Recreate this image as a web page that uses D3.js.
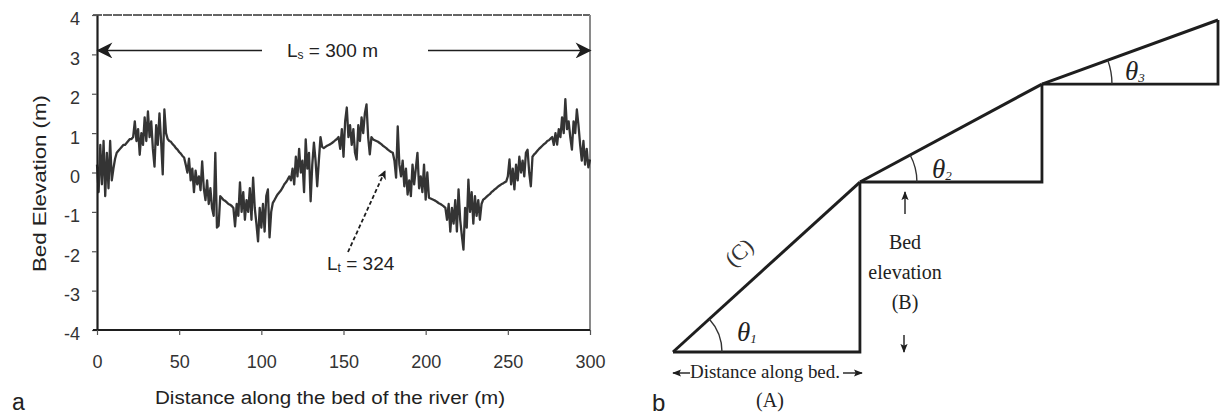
<!DOCTYPE html>
<html><head><meta charset="utf-8">
<script src="https://cdn.jsdelivr.net/npm/d3@7"></script>
<style>body{margin:0;background:#fff;} svg{display:block}</style>
</head><body><svg id="c" width="1224" height="417"></svg>
<script>
// ---------- Panel a data ----------
const elevation = [
 0.2, -0.5, 0.7, -0.3, 0.8, -0.6, 0.5, -0.4, 0.8, -0.2,
 0.1, 0.35, 0.5, 0.55, 0.6, 0.65, 0.7, 0.7, 0.75, 0.8,
 0.85, 0.85, 0.9, 1.3, 0.8, 1.1, 0.45, 1.0, 0.7, 1.4,
 0.8, 1.55, 0.9, 1.3, 0.6, 0.15, 1.2, 0.7, 1.5, 0.8,
 -0.05, 1.6, 1.0, 0.85, 0.8, 0.78, 0.72, 0.68, 0.62, 0.58,
 0.52, 0.48, 0.42, 0.38, 0.2, 0.0, 0.35, -0.2, 0.1, -0.5,
 0.05, -0.3, -0.1, -0.45, 0.28, -0.4, -0.7, -0.2, -0.8, -0.4,
 -0.9, -1.1, 0.5, -1.4, -1.35, -0.6, -0.65, -0.7, -0.72, -0.76,
 -0.8, -0.82, -0.85, -0.9, -1.37, -0.8, -1.1, -0.25, -1.0, -0.5,
 -1.2, -0.7, -1.0, -0.4, -1.2, -0.13, -0.9, -1.3, -1.75, -0.9,
 -1.4, -0.8, -1.5, -0.6, -0.43, -1.65, -1.0, -0.77, -0.7, -0.62,
 -0.55, -0.5, -0.45, -0.38, -0.3, -0.25, -0.18, -0.1, -0.2, 0.1,
 -0.3, 0.4, -0.1, 0.6, 0.0, 0.3, -0.5, 0.84, 0.1, 0.5,
 -0.73, 0.2, 0.76, 0.3, -0.35, 0.3, 0.9, 0.65, 0.62, 0.65,
 0.68, 0.7, 0.72, 0.75, 0.78, 0.82, 0.85, 0.9, 0.6, 1.1,
 0.4, 1.3, 1.65, 0.9, 1.2, 0.7, 1.1, 0.5, 0.33, 1.2,
 0.8, 1.4, 1.0, 1.5, 1.73, 0.9, 0.46, 0.9, 0.84, 0.82,
 0.8, 0.78, 0.75, 0.72, 0.68, 0.65, 0.62, 0.58, 0.55, 0.52,
 0.5, 0.3, -0.13, 1.17, 0.2, -0.1, 0.3, -0.35, 0.1, -0.56,
 -0.2, -0.6, 0.2, -0.3, 0.1, 0.5, -0.4, -0.1, -0.5, 0.2,
 -0.69, 0.0, -0.64, -0.66, -0.68, -0.7, -0.72, -0.75, -0.78, -0.8,
 -0.83, -0.86, -0.9, -1.2, -0.8, -1.5, -0.9, -1.3, -0.7, -1.5,
 -0.43, -1.2, -1.6, -1.96, -0.9, -1.4, -0.18, -1.0, -0.5, -1.3,
 -0.6, -1.1, -0.7, -1.2, -0.8, -0.69, -0.66, -0.62, -0.58, -0.55,
 -0.5, -0.47, -0.43, -0.4, -0.36, -0.33, -0.3, -0.28, -0.25, -0.23,
 -0.1, 0.33, -0.3, 0.1, -0.43, 0.2, -0.2, 0.4, 0.0, 0.3,
 -0.1, 0.5, 0.58, 0.0, -0.35, 0.4, 0.46, 0.5, 0.55, 0.6,
 0.64, 0.68, 0.72, 0.75, 0.8, 0.82, 0.86, 0.9, 0.7, 1.0,
 0.71, 1.1, 0.9, 1.4, 1.0, 1.86, 1.1, 1.3, 0.9, 0.58,
 1.3, 1.0, 1.6, 1.2, 0.7, 0.3, 0.8, 0.2, 0.6, 0.13,
 0.33
];
const distance = elevation.map((_, i) => i);   // 1 m sampling
const xTicks = [0, 50, 100, 150, 200, 250, 300];
const yTicks = [-4, -3, -2, -1, 0, 1, 2, 3, 4];
const lsValue = 3.1;          // level of the Ls arrow
const lsLabel = "300 m";
const ltLabel = "324";

// ---------- Panel b data (diagram units) ----------
const stepDistance = [0, 34.3, 67.7, 100];
const stepElevation = [0, 51.2, 80.7, 100];

const svg = d3.select("#c");
const sans = "Liberation Sans, Arial, sans-serif";
const serif = "Liberation Serif, Times New Roman, serif";
const ink = "#1e1e1e";

svg.append("defs").html(`
 <marker id="ah" viewBox="0 0 10 10" refX="9" refY="5" markerWidth="9" markerHeight="9" markerUnits="userSpaceOnUse" orient="auto">
   <path d="M0,0 L10,5 L0,10 L3,5 Z" fill="${ink}"/></marker>
 <marker id="ahBig" viewBox="0 0 10 10" refX="9" refY="5" markerWidth="18" markerHeight="16" markerUnits="userSpaceOnUse" orient="auto">
   <path d="M0,0 L10,5 L0,10 L3,5 Z" fill="${ink}"/></marker>
 <marker id="ahS" viewBox="0 0 10 10" refX="9" refY="5" markerWidth="9" markerHeight="9" markerUnits="userSpaceOnUse" orient="auto">
   <path d="M0,1 L10,5 L0,9 L2,5 Z" fill="${ink}"/></marker>
`);

// ---------- Panel a ----------
const x = d3.scaleLinear().domain([0, 300]).range([97, 590]);
const y = d3.scaleLinear().domain([-4, 4]).range([330, 15]);

const ga = svg.append("g");
// frame top / right
ga.append("line").attr("x1", 93).attr("x2", x(300)).attr("y1", y(4)).attr("y2", y(4))
  .attr("stroke", "#333").attr("stroke-width", 1.6).attr("stroke-dasharray", "9,1");
ga.append("line").attr("x1", x(300)).attr("x2", x(300)).attr("y1", y(4)).attr("y2", y(-4))
  .attr("stroke", "#8a8a8a").attr("stroke-width", 2);

// axes
const fmt = d => String(d);
const yAxis = d3.axisLeft(y).tickValues(yTicks).tickFormat(fmt).tickSize(5).tickSizeOuter(0).tickPadding(12);
const gy = ga.append("g").attr("transform", `translate(${x(0)},0)`).call(yAxis);
gy.select(".domain").attr("stroke", ink).attr("stroke-width", 2.2);
gy.selectAll(".tick line").attr("stroke", "#555").attr("stroke-width", 1.2);
gy.selectAll(".tick text").attr("font-family", sans).attr("font-size", 18).attr("fill", "#333")
  .attr("dy", "0.55em");

const xAxis = d3.axisBottom(x).tickValues(xTicks).tickFormat(fmt).tickSize(5).tickSizeOuter(0).tickPadding(20);
const gx = ga.append("g").attr("transform", `translate(0,${y(-4)})`).call(xAxis);
gx.select(".domain").attr("stroke", ink).attr("stroke-width", 2.2).attr("d", `M93,0H${x(300)}`);
gx.selectAll(".tick line").attr("stroke", "#555").attr("stroke-width", 1.2);
gx.selectAll(".tick text").attr("font-family", sans).attr("font-size", 18).attr("fill", "#333");

// data line
const line = d3.line().x((d, i) => x(distance[i])).y(d => y(d));
ga.append("path").datum(elevation).attr("d", line).attr("fill", "none")
  .attr("stroke", ink).attr("stroke-width", 2.3).attr("stroke-linejoin", "round").attr("opacity", 0.9);

// Ls annotation
ga.append("line").attr("x1", 262).attr("x2", x(0) + 1).attr("y1", y(lsValue)).attr("y2", y(lsValue))
  .attr("stroke", ink).attr("stroke-width", 1.6).attr("marker-end", "url(#ahBig)");
ga.append("line").attr("x1", 428).attr("x2", x(300)).attr("y1", y(lsValue)).attr("y2", y(lsValue))
  .attr("stroke", ink).attr("stroke-width", 1.6).attr("marker-end", "url(#ahBig)");
const ls = ga.append("text").attr("x", 287).attr("y", y(lsValue) + 7)
  .attr("font-family", sans).attr("font-size", 19).attr("fill", "#222");
ls.append("tspan").text("L");
ls.append("tspan").attr("font-size", 12).attr("dy", 2).text("s");
ls.append("tspan").attr("dy", -2).text(" = " + lsLabel);

// Lt annotation
ga.append("line").attr("x1", 348).attr("y1", 252).attr("x2", 385).attr("y2", 171)
  .attr("stroke", ink).attr("stroke-width", 1.8).attr("stroke-dasharray", "4,2.5")
  .attr("marker-end", "url(#ah)");
const lt = ga.append("text").attr("x", 327).attr("y", 270)
  .attr("font-family", sans).attr("font-size", 19).attr("fill", "#222");
lt.append("tspan").text("L");
lt.append("tspan").attr("font-size", 12).attr("dy", 2).text("t");
lt.append("tspan").attr("dy", -2).text(" = " + ltLabel);

// axis titles
ga.append("text").attr("transform", `translate(46,${(95 + 272) / 2}) rotate(-90)`)
  .attr("text-anchor", "middle").attr("font-family", sans).attr("font-size", 18).attr("fill", "#222")
  .attr("textLength", 177).attr("lengthAdjust", "spacingAndGlyphs").text("Bed Elevation (m)");
ga.append("text").attr("x", 155).attr("y", 404)
  .attr("font-family", sans).attr("font-size", 18).attr("fill", "#222")
  .attr("textLength", 350).attr("lengthAdjust", "spacingAndGlyphs").text("Distance along the bed of the river (m)");
ga.append("text").attr("x", 12).attr("y", 410).attr("font-family", sans).attr("font-size", 23)
  .attr("fill", "#222").text("a");

// ---------- Panel b ----------
const bx = d3.scaleLinear().domain([0, 100]).range([673, 1218]);
const by = d3.scaleLinear().domain([0, 100]).range([352, 20]);
const gb = svg.append("g");

for (let i = 0; i < stepDistance.length - 1; i++) {
  const x0 = bx(stepDistance[i]), x1 = bx(stepDistance[i + 1]);
  const y0 = by(stepElevation[i]), y1 = by(stepElevation[i + 1]);
  gb.append("path").attr("d", `M${x0},${y0}H${x1}V${y1}`).attr("fill", "none")
    .attr("stroke", ink).attr("stroke-width", 2.8);
  gb.append("line").attr("x1", x0).attr("y1", y0).attr("x2", x1).attr("y2", y1)
    .attr("stroke", ink).attr("stroke-width", 3);
  // angle arc
  const ang = Math.atan2(y0 - y1, x1 - x0);
  const r = [49, 57, 70][i];
  const p = d3.path();
  p.moveTo(x0 + r * Math.cos(-ang), y0 + r * Math.sin(-ang));
  p.arc(x0, y0, r, -ang, 0);
  gb.append("path").attr("d", p.toString()).attr("fill", "none").attr("stroke", "#333").attr("stroke-width", 1.4);
}

// theta labels
const thetaPos = [[737, 341, "1"], [932, 178, "2"], [1125, 80, "3"]];
thetaPos.forEach(([tx, ty, s]) => {
  const t = gb.append("text").attr("x", tx).attr("y", ty).attr("font-family", serif)
    .attr("font-style", "italic").attr("font-size", 27).attr("fill", "#222");
  t.append("tspan").text("θ");
  t.append("tspan").attr("font-size", 13).attr("dy", 2).text(s);
});

// (C) along the first hypotenuse
const angC = Math.atan2(by(stepElevation[0]) - by(stepElevation[1]), bx(stepDistance[1]) - bx(stepDistance[0])) * 180 / Math.PI;
gb.append("text").attr("transform", `translate(744,258) rotate(${-angC})`)
  .attr("text-anchor", "middle").attr("font-family", serif).attr("font-size", 22).attr("fill", "#333").text("(C)");

// Bed elevation (B)
gb.append("line").attr("x1", 905).attr("y1", 214).attr("x2", 905).attr("y2", 192)
  .attr("stroke", ink).attr("stroke-width", 1.4).attr("marker-end", "url(#ahS)");
gb.append("line").attr("x1", 904).attr("y1", 335).attr("x2", 904).attr("y2", 352)
  .attr("stroke", ink).attr("stroke-width", 1.4).attr("marker-end", "url(#ahS)");
[["Bed", 249], ["elevation", 279], ["(B)", 309]].forEach(([s, ty]) => {
  gb.append("text").attr("x", 905).attr("y", ty).attr("text-anchor", "middle")
    .attr("font-family", serif).attr("font-size", 20).attr("fill", "#222").text(s);
});

// Distance along bed (A)
gb.append("line").attr("x1", 690).attr("y1", 373).attr("x2", 673).attr("y2", 373)
  .attr("stroke", ink).attr("stroke-width", 1.4).attr("marker-end", "url(#ahS)");
gb.append("line").attr("x1", 843).attr("y1", 373).attr("x2", 862).attr("y2", 373)
  .attr("stroke", ink).attr("stroke-width", 1.4).attr("marker-end", "url(#ahS)");
gb.append("text").attr("x", 690).attr("y", 378).attr("font-family", serif).attr("font-size", 18)
  .attr("fill", "#222").attr("textLength", 150).attr("lengthAdjust", "spacingAndGlyphs").text("Distance along bed.");
gb.append("text").attr("x", 770).attr("y", 407).attr("text-anchor", "middle").attr("font-family", serif)
  .attr("font-size", 20).attr("fill", "#222").text("(A)");
gb.append("text").attr("x", 652).attr("y", 411).attr("font-family", sans).attr("font-size", 24)
  .attr("fill", "#222").text("b");
</script></body></html>
